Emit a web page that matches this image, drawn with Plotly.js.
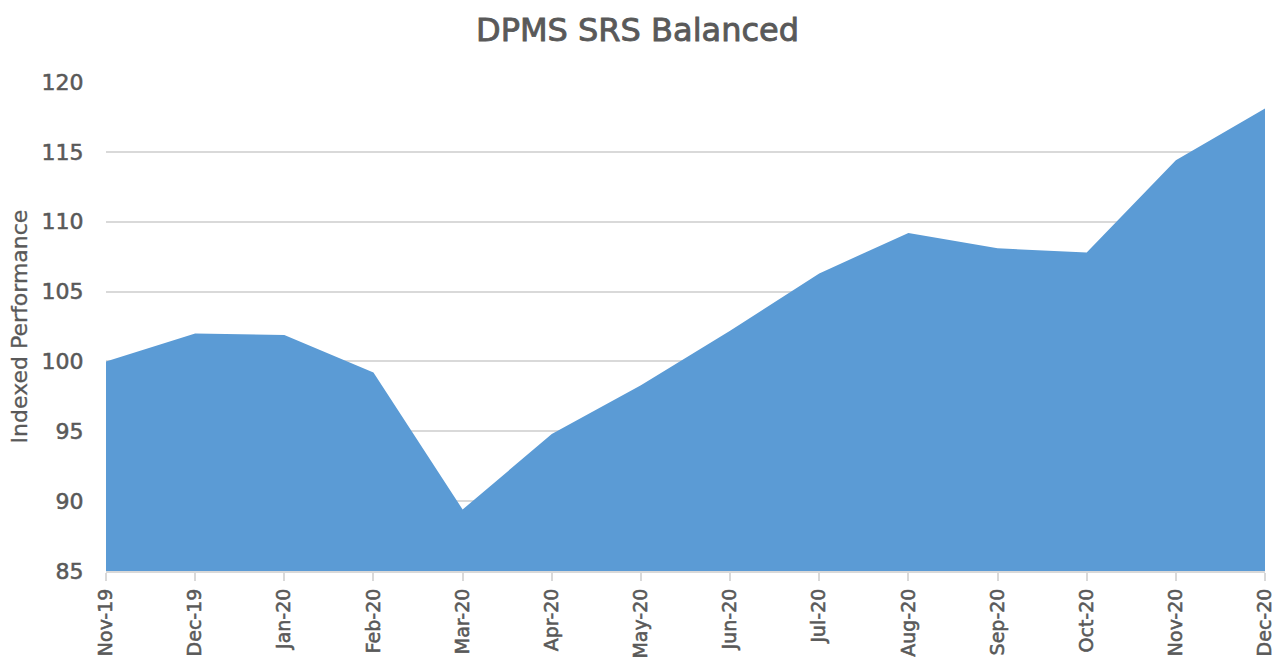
<!DOCTYPE html>
<html>
<head>
<meta charset="utf-8">
<script src="https://cdn.plot.ly/plotly-3.0.1.min.js"></script>
<style>
html,body{margin:0;padding:0;background:#fff}
#chart{width:1275px;height:660px}
#chart .xtick text, #chart .ytick text{stroke:#595959;stroke-width:0.55px}
#chart .gtitle{stroke:#595959;stroke-width:0.9px}
#chart .ytitle{stroke:#595959;stroke-width:0.3px}
</style>
</head>
<body>
<div id="chart"></div>
<script>
const months = ["Nov-19","Dec-19","Jan-20","Feb-20","Mar-20","Apr-20","May-20","Jun-20","Jul-20","Aug-20","Sep-20","Oct-20","Nov-20","Dec-20"];
const performance = [100.0, 102.0, 101.9, 99.2, 89.4, 94.8, 98.3, 102.2, 106.3, 109.2, 108.1, 107.8, 114.4, 118.1];
const yTicks = [85, 90, 95, 100, 105, 110, 115, 120];

const txt = "#595959";
const font = "DejaVu Sans, Liberation Sans, sans-serif";

Plotly.newPlot("chart", [{
  type: "scatter",
  mode: "lines",
  x: months,
  y: performance,
  fill: "tozeroy",
  fillcolor: "#5B9BD5",
  line: {color: "#5B9BD5", width: 0},
  hoverinfo: "x+y"
}], {
  width: 1275, height: 660,
  margin: {l: 106, r: 10, t: 82, b: 89},
  paper_bgcolor: "#fff", plot_bgcolor: "#fff",
  showlegend: false,
  title: {text: "DPMS SRS Balanced", x: 0.5, xanchor: "center", y: 0.955, yanchor: "middle",
          font: {family: font, size: 32, color: txt}},
  xaxis: {
    type: "category", range: [0, 13], tickangle: -90,
    showgrid: false, zeroline: false,
    showline: true, linecolor: "#D9D9D9", linewidth: 2,
    ticks: "outside", ticklen: 8, tickcolor: "#D9D9D9", tickwidth: 2,
    tickfont: {family: font, size: 19, color: txt}
  },
  yaxis: {
    range: [85, 120], tickvals: yTicks, ticktext: yTicks.map(String),
    showgrid: true, gridcolor: "#D9D9D9", gridwidth: 2,
    zeroline: false, showline: false,
    ticks: "outside", ticklen: 17, tickcolor: "rgba(0,0,0,0)",
    tickfont: {family: font, size: 22, color: txt},
    title: {text: "Indexed Performance", font: {family: font, size: 22, color: txt}, standoff: 7}
  }
}, {displayModeBar: false, staticPlot: true});
</script>
</body>
</html>
